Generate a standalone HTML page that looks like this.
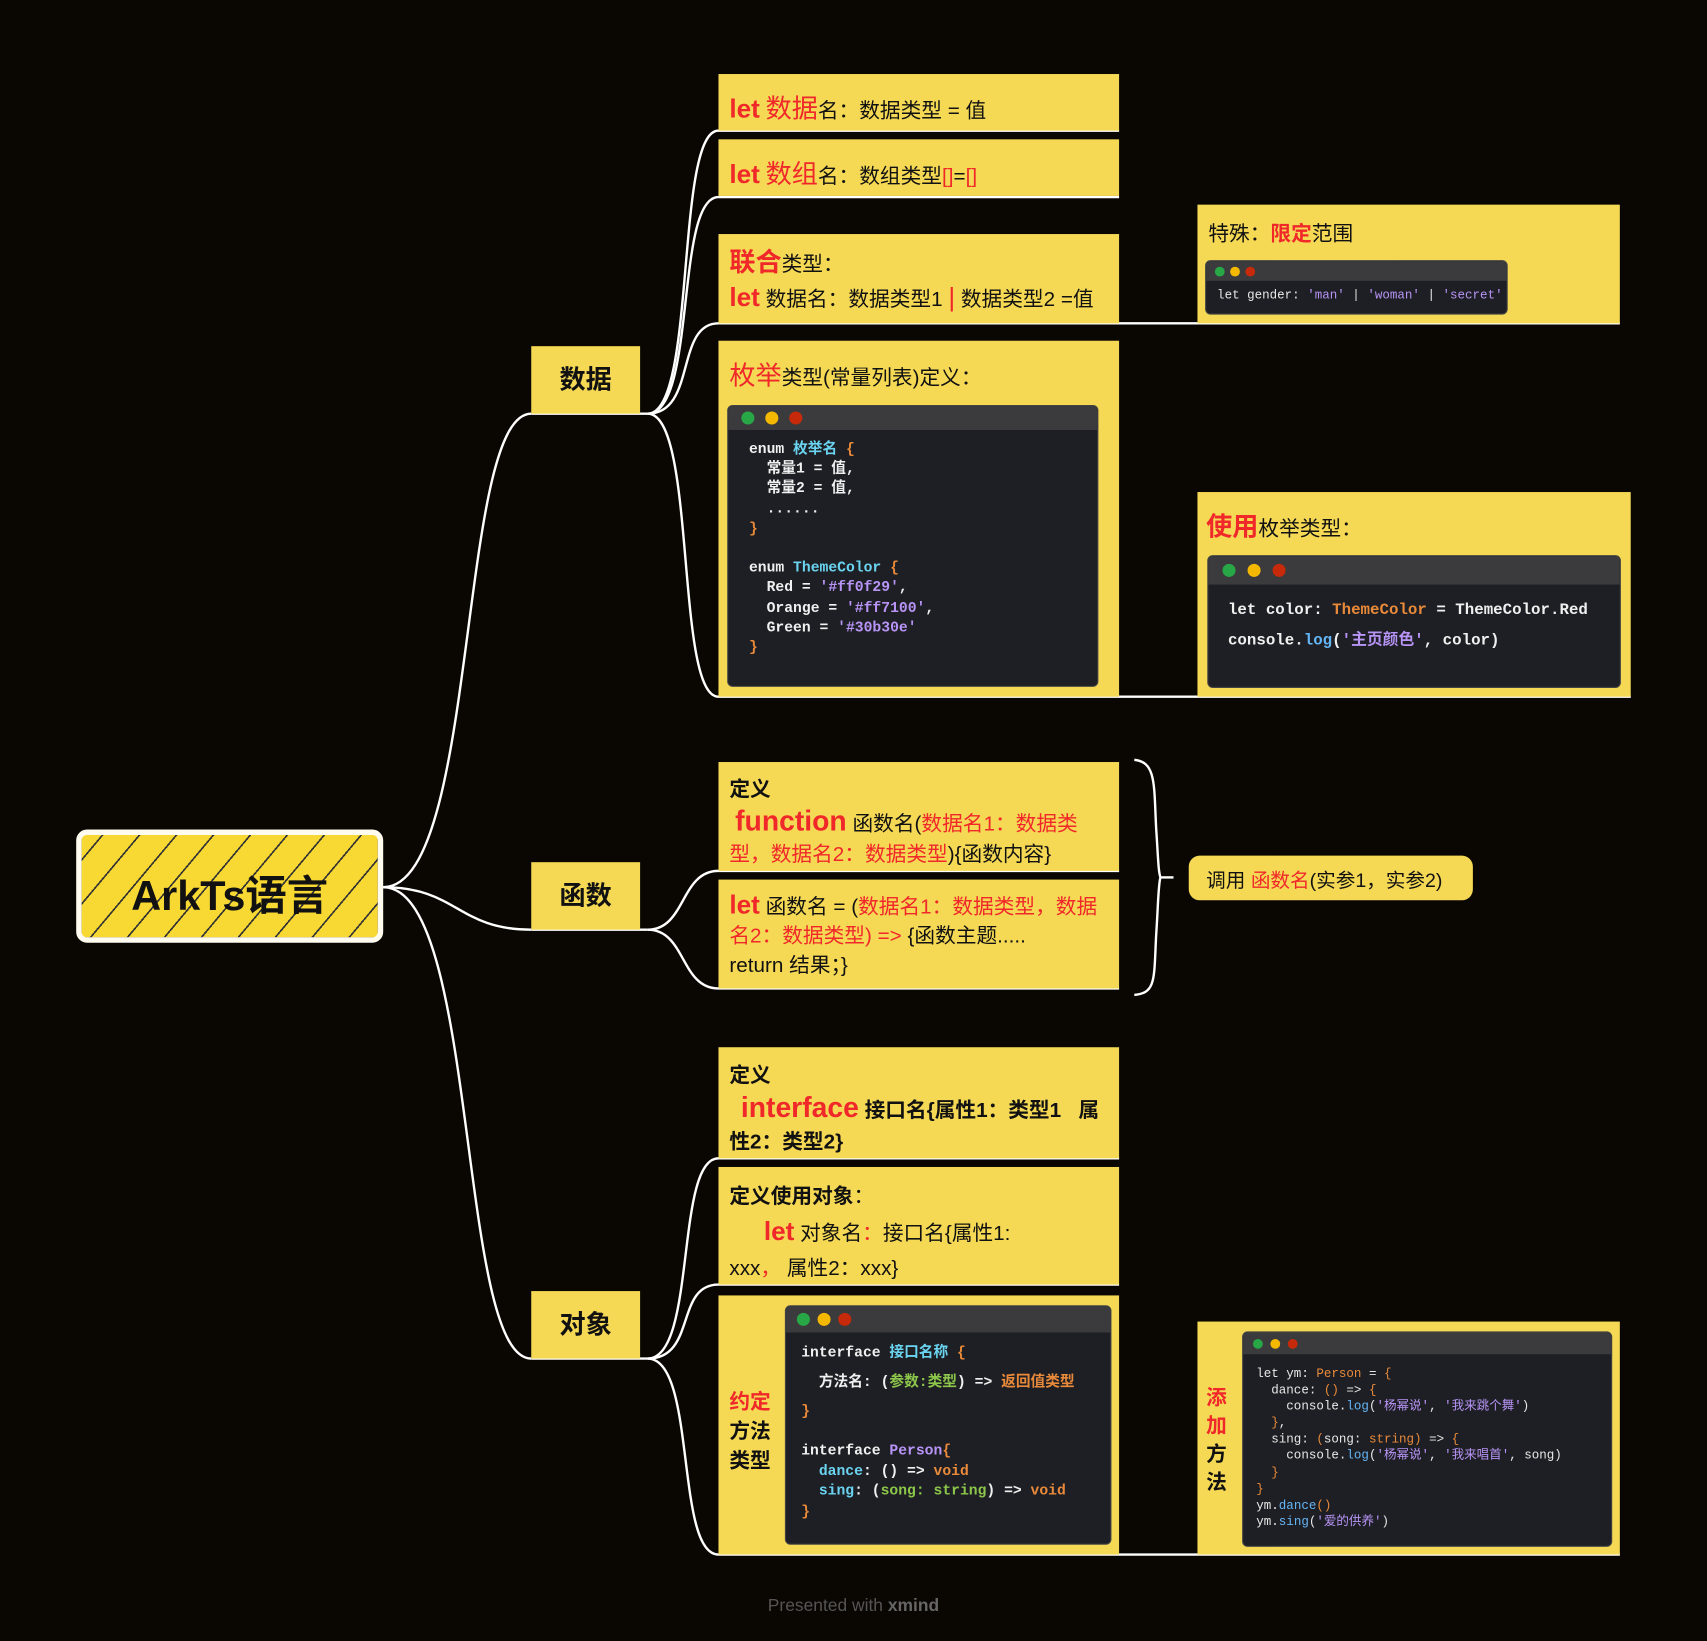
<!DOCTYPE html>
<html><head><meta charset="utf-8"><style>
html,body{margin:0;padding:0;background:#0a0703;width:1707px;height:1641px;overflow:hidden}
#w{position:absolute;left:0;top:0;width:1568px;height:1507px;transform:scale(1.0886);transform-origin:0 0;font-family:"Liberation Sans","Noto Sans CJK SC",sans-serif}
.b{position:absolute;background:#f5d955;color:#111;box-sizing:border-box}
.r{color:#f0282a}
.t{position:absolute;white-space:nowrap}
.code{position:absolute;background:#1e1f24;border-radius:4px;overflow:hidden;font-family:"Liberation Mono","Noto Sans CJK SC",monospace;color:#e8e8e8;box-shadow:0 0 0 1px #444}
.hd{height:22px;background:#3b3b3d;position:relative}
.d{position:absolute;top:5px;width:12px;height:12px;border-radius:50%}
.g{background:#27a745}.y{background:#f5b800}.o{background:#c62a0a}
pre{margin:0;font-family:inherit;white-space:pre}
.k{color:#f0f0f0;font-weight:bold}.cy{color:#6ad4f0}.pu{color:#b794f6}.or{color:#e98a3a}.gr{color:#8cc64a}.bl{color:#64b5f6}
</style></head><body><div id="w">
<svg width="1568" height="1507" style="position:absolute;left:0;top:0" fill="none" stroke="#fff" stroke-width="2.2">
<path d="M352,815 C440,815 420,380 488,380"/>
<path d="M352,815 C420,815 420,854 488,854"/>
<path d="M352,815 C440,815 420,1248 488,1248"/>
<path d="M488,380 H595 M488,854 H595 M488,1248 H595"/>
<path d="M595,380 C640,380 620,120 660,120 H1028"/>
<path d="M595,380 C640,380 620,181 660,181 H1028"/>
<path d="M595,380 C640,380 620,297 660,297 H1488"/>
<path d="M595,380 C640,380 620,640 660,640 H1498"/>
<path d="M595,854 C630,854 625,800 660,800 H1028"/>
<path d="M595,854 C630,854 625,908 660,908 H1028"/>
<path d="M595,1248 C640,1248 620,1064 660,1064 H1028"/>
<path d="M595,1248 C640,1248 620,1180 660,1180 H1028"/>
<path d="M595,1248 C640,1248 620,1428 660,1428 H1488"/>
<path d="M1042,698 C1062,700 1060,720 1062,760 C1064,790 1064,800 1066,806 C1064,812 1064,830 1062,860 C1060,900 1062,912 1042,914"/>
<path d="M1066,806 H1078"/>
</svg>
<div class="b" style="left:70px;top:762px;width:282px;height:104px;border:5px solid #fffbef;border-radius:10px;background:repeating-linear-gradient(130deg,#f8d832 0 14px,#333 14px 15.5px,#f8d832 15.5px 26px);"></div>
<div class="t" style="left:70px;top:792px;width:282px;text-align:center;font-size:38px;font-weight:bold;color:#111">ArkTs语言</div>

<div class="b" style="left:488px;top:318px;width:100px;height:62px;font-size:24px;font-weight:bold;text-align:center;line-height:64px">数据</div>
<div class="b" style="left:488px;top:792px;width:100px;height:62px;font-size:24px;font-weight:bold;text-align:center;line-height:64px">函数</div>
<div class="b" style="left:488px;top:1186px;width:100px;height:62px;font-size:24px;font-weight:bold;text-align:center;line-height:64px">对象</div>

<div class="b" style="left:660px;top:68px;width:368px;height:52px;font-size:19px;padding:12px 10px"><span class="r" style="font-size:24px;font-weight:bold">let</span> <span class="r" style="font-size:24px">数据</span>名：数据类型 = 值</div>
<div class="b" style="left:660px;top:128px;width:368px;height:52px;font-size:19px;padding:12px 10px"><span class="r" style="font-size:24px;font-weight:bold">let</span> <span class="r" style="font-size:24px">数组</span>名：数组类型<span class="r">[]</span>=<span class="r">[]</span></div>
<div class="b" style="left:660px;top:215px;width:368px;height:82px;font-size:19px;padding:12px 10px;line-height:30px"><span class="r" style="font-size:24px;font-weight:bold">联合</span>类型：<br><span class="r" style="font-size:24px;font-weight:bold">let</span> 数据名：数据类型1 <span class="r" style="font-size:24px">|</span> 数据类型2 =值</div>
<div class="b" style="left:1100px;top:188px;width:388px;height:109px;font-size:19px;padding:12px 10px">特殊：<b class="r">限定</b>范围</div>
<div class="code" style="left:1108px;top:240px;width:276px;height:48px"><div class="hd" style="height:18px"><span class="d g" style="left:8px;top:5px;width:9px;height:9px"></span><span class="d y" style="left:22px;top:5px;width:9px;height:9px"></span><span class="d o" style="left:36px;top:5px;width:9px;height:9px"></span></div><pre style="font-size:11.5px;padding:7px 10px">let gender: <span class="pu">'man'</span> | <span class="pu">'woman'</span> | <span class="pu">'secret'</span></pre></div>

<div class="b" style="left:660px;top:313px;width:368px;height:327px;font-size:19px;padding:12px 10px"><span class="r" style="font-size:24px">枚举</span>类型(常量列表)定义：</div>
<div class="code" style="left:669px;top:373px;width:339px;height:257px"><div class="hd"><span class="d g" style="left:12px"></span><span class="d y" style="left:34px"></span><span class="d o" style="left:56px"></span></div><pre style="font-size:13.5px;line-height:18.2px;padding:10px 19px" class="k">enum <span class="cy">枚举名</span> <span class="or">{</span>
  常量1 = 值,
  常量2 = 值,
  ......
<span class="or">}</span>

enum <span class="cy">ThemeColor</span> <span class="or">{</span>
  Red = <span class="pu">'#ff0f29'</span>,
  Orange = <span class="pu">'#ff7100'</span>,
  Green = <span class="pu">'#30b30e'</span>
<span class="or">}</span></pre></div>

<div class="b" style="left:1100px;top:452px;width:398px;height:188px;font-size:19px;padding:12px 8px"><span class="r" style="font-size:24px;font-weight:bold">使用</span>枚举类型：</div>
<div class="code" style="left:1110px;top:511px;width:378px;height:120px"><div class="hd" style="height:26px"><span class="d g" style="left:13px;top:7px"></span><span class="d y" style="left:36px;top:7px"></span><span class="d o" style="left:59px;top:7px"></span></div><pre style="font-size:14.5px;line-height:28px;padding:10px 18px" class="k">let color: <span class="or">ThemeColor</span> = ThemeColor.Red
console.<span class="bl">log</span>(<span class="pu">'主页颜色'</span>, color)</pre></div>

<div class="b" style="left:660px;top:700px;width:368px;height:100px;font-size:19px;padding:12px 10px;line-height:28px"><b>定义</b><br>&nbsp;<span class="r" style="font-size:26px;font-weight:bold">function</span> 函数名(<span class="r">数据名1：数据类</span><br><span class="r">型，数据名2：数据类型</span>){函数内容}</div>
<div class="b" style="left:660px;top:808px;width:368px;height:100px;font-size:19px;padding:10px 10px;line-height:27px"><span class="r" style="font-size:24px;font-weight:bold">let</span> 函数名 = (<span class="r">数据名1：数据类型，数据</span><br><span class="r">名2：数据类型) =&gt;</span> {函数主题.....<br>return 结果；}</div>
<div class="b" style="left:1092px;top:786px;width:261px;height:41px;border-radius:10px;font-size:18px;padding:9px 16px">调用 <span class="r">函数名</span>(实参1，实参2)</div>

<div class="b" style="left:660px;top:962px;width:368px;height:102px;font-size:19px;padding:12px 10px;line-height:29px;font-weight:bold">定义<br>&nbsp;&nbsp;<span class="r" style="font-size:26px">interface</span> 接口名{属性1：类型1&nbsp;&nbsp;&nbsp;属<br>性2：类型2}</div>
<div class="b" style="left:660px;top:1072px;width:368px;height:108px;font-size:19px;padding:12px 10px;line-height:32px"><b>定义使用对象</b>：<br>&nbsp;&nbsp;&nbsp;&nbsp;&nbsp;&nbsp;<span class="r" style="font-size:24px;font-weight:bold">let</span> 对象名<span class="r">：</span>接口名{属性1:<br>xxx<span class="r">，</span> 属性2：xxx}</div>
<div class="b" style="left:660px;top:1190px;width:368px;height:238px;font-size:19px;font-weight:bold;padding:85px 10px;line-height:27px"><span class="r">约定</span><br>方法<br>类型</div>
<div class="code" style="left:722px;top:1200px;width:298px;height:218px"><div class="hd" style="height:24px"><span class="d g" style="left:10px;top:6px"></span><span class="d y" style="left:29px;top:6px"></span><span class="d o" style="left:48px;top:6px"></span></div><pre style="font-size:13.5px;line-height:27px;padding:6px 14px 0" class="k">interface <span class="cy">接口名称</span> <span class="or">{</span>
  方法名: (<span class="gr">参数:类型</span>) =&gt; <span class="or">返回值类型</span>
<span class="or">}</span></pre><pre style="font-size:13.5px;line-height:18.5px;padding:14px 14px 0" class="k">interface <span class="pu">Person</span><span class="or">{</span>
  <span class="cy">dance</span>: () =&gt; <span class="or">void</span>
  <span class="cy">sing</span>: (<span class="gr">song: string</span>) =&gt; <span class="or">void</span>
<span class="or">}</span></pre></div>

<div class="b" style="left:1100px;top:1214px;width:388px;height:214px;font-size:19px;font-weight:bold;padding:58px 8px;line-height:26px" ><span class="r">添<br>加</span><br>方<br>法</div>
<div class="code" style="left:1142px;top:1224px;width:338px;height:196px"><div class="hd" style="height:20px"><span class="d g" style="left:9px;top:6px;width:9px;height:9px"></span><span class="d y" style="left:25px;top:6px;width:9px;height:9px"></span><span class="d o" style="left:41px;top:6px;width:9px;height:9px"></span></div><pre style="font-size:11.5px;line-height:15.1px;padding:11px 12px">let ym: <span class="or">Person</span> = <span class="or">{</span>
  dance: <span class="or">()</span> =&gt; <span class="or">{</span>
    console.<span class="bl">log</span>(<span class="pu">'杨幂说'</span>, <span class="pu">'我来跳个舞'</span>)
  <span class="or">}</span>,
  sing: <span class="or">(</span>song: <span class="or">string)</span> =&gt; <span class="or">{</span>
    console.<span class="bl">log</span>(<span class="pu">'杨幂说'</span>, <span class="pu">'我来唱首'</span>, song)
  <span class="or">}</span>
<span class="or">}</span>
ym.<span class="bl">dance</span><span class="or">()</span>
ym.<span class="bl">sing</span>(<span class="pu">'爱的供养'</span>)</pre></div>

<div class="t" style="left:0;width:1568px;top:1467px;text-align:center;font-size:16px;color:#555">Presented with <b style="color:#666">xmind</b></div>
</div></body></html>
